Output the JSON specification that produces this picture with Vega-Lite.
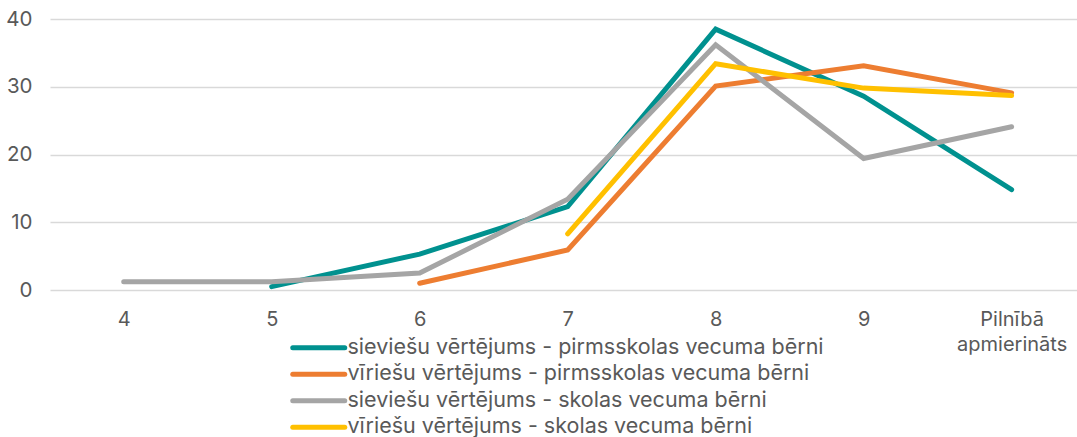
{
  "$schema": "https://vega.github.io/schema/vega-lite/v6.json",
  "width": 1027,
  "height": 271,
  "autosize": {"type": "none"},
  "padding": {"left": 50, "top": 19, "right": 0, "bottom": 147},
  "background": "white",
  "config": {
    "font": "Inter",
    "view": {"stroke": null}
  },
  "data": {
    "values": [
      {"k": "5", "s": "sieviešu vērtējums - pirmsskolas vecuma bērni", "v": 0.5},
      {"k": "6", "s": "sieviešu vērtējums - pirmsskolas vecuma bērni", "v": 5.3},
      {"k": "7", "s": "sieviešu vērtējums - pirmsskolas vecuma bērni", "v": 12.3},
      {"k": "8", "s": "sieviešu vērtējums - pirmsskolas vecuma bērni", "v": 38.5},
      {"k": "9", "s": "sieviešu vērtējums - pirmsskolas vecuma bērni", "v": 28.6},
      {"k": "Pilnībā apmierināts", "s": "sieviešu vērtējums - pirmsskolas vecuma bērni", "v": 14.8},
      {"k": "6", "s": "vīriešu vērtējums - pirmsskolas vecuma bērni", "v": 1.0},
      {"k": "7", "s": "vīriešu vērtējums - pirmsskolas vecuma bērni", "v": 5.9},
      {"k": "8", "s": "vīriešu vērtējums - pirmsskolas vecuma bērni", "v": 30.1},
      {"k": "9", "s": "vīriešu vērtējums - pirmsskolas vecuma bērni", "v": 33.1},
      {"k": "Pilnībā apmierināts", "s": "vīriešu vērtējums - pirmsskolas vecuma bērni", "v": 29.1},
      {"k": "4", "s": "sieviešu vērtējums - skolas vecuma bērni", "v": 1.2},
      {"k": "5", "s": "sieviešu vērtējums - skolas vecuma bērni", "v": 1.2},
      {"k": "6", "s": "sieviešu vērtējums - skolas vecuma bērni", "v": 2.5},
      {"k": "7", "s": "sieviešu vērtējums - skolas vecuma bērni", "v": 13.4},
      {"k": "8", "s": "sieviešu vērtējums - skolas vecuma bērni", "v": 36.2},
      {"k": "9", "s": "sieviešu vērtējums - skolas vecuma bērni", "v": 19.4},
      {"k": "Pilnībā apmierināts", "s": "sieviešu vērtējums - skolas vecuma bērni", "v": 24.1},
      {"k": "7", "s": "vīriešu vērtējums - skolas vecuma bērni", "v": 8.3},
      {"k": "8", "s": "vīriešu vērtējums - skolas vecuma bērni", "v": 33.4},
      {"k": "9", "s": "vīriešu vērtējums - skolas vecuma bērni", "v": 29.8},
      {"k": "Pilnībā apmierināts", "s": "vīriešu vērtējums - skolas vecuma bērni", "v": 28.7}
    ]
  },
  "mark": {"type": "line", "strokeWidth": 5, "strokeCap": "round", "strokeJoin": "miter"},
  "encoding": {
    "x": {
      "field": "k", "type": "ordinal",
      "sort": ["4", "5", "6", "7", "8", "9", "Pilnībā apmierināts"],
      "scale": {"type": "point", "domain": ["4", "5", "6", "7", "8", "9", "Pilnībā apmierināts"], "padding": 0.47, "align": 0.53},
      "axis": {"title": null, "domain": false, "ticks": false, "labelFont": "Inter", "labelFontSize": 20, "labelColor": "#595959",
        "labelAngle": 0, "grid": false, "labelPadding": 35, "labelLineHeight": 25, "labelBaseline": "alphabetic",
        "labelExpr": "datum.value == 'Pilnībā apmierināts' ? ['Pilnībā', 'apmierināts'] : datum.value"}
    },
    "y": {
      "field": "v", "type": "quantitative",
      "scale": {"domain": [0, 40], "nice": false},
      "axis": {"title": null, "domain": false, "ticks": false, "labelFont": "Inter", "labelFontSize": 20.5, "labelColor": "#595959",
        "values": [0, 10, 20, 30, 40], "grid": true, "gridColor": "#D9D9D9", "gridWidth": 1.5, "labelPadding": 18}
    },
    "color": {
      "field": "s", "type": "nominal",
      "scale": {
        "domain": ["sieviešu vērtējums - pirmsskolas vecuma bērni", "vīriešu vērtējums - pirmsskolas vecuma bērni", "sieviešu vērtējums - skolas vecuma bērni", "vīriešu vērtējums - skolas vecuma bērni"],
        "range": ["#00918F", "#ED7D31", "#A5A5A5", "#FFC000"]
      },
      "legend": {
        "orient": "none", "legendX": 258, "legendY": 318, "title": null,
        "symbolType": "M-5.2,0H5.2", "symbolSize": 100, "symbolStrokeWidth": 5,
        "labelFont": "Inter", "labelFontSize": 21.5, "labelColor": "#595959", "labelOffset": 18, "rowPadding": 3.5, "labelLimit": 700,
        "encode": {"symbols": {"update": {"strokeCap": {"value": "round"}}}}
      }
    }
  }
}
